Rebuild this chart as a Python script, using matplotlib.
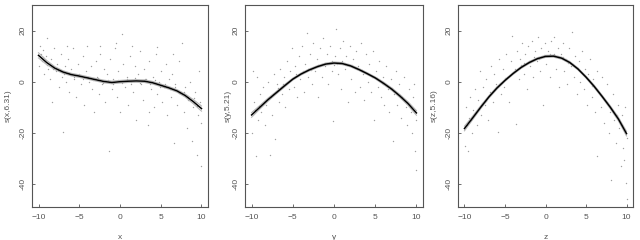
import numpy as np
import matplotlib
matplotlib.use("Agg")
import matplotlib.pyplot as plt

plt.rcParams['font.family'] = ['Liberation Sans', 'DejaVu Sans']

# smooth estimates read at x = -10 .. 10
grid = list(range(-10, 11))
fit_x = [10.3, 7.5, 5.3, 3.8, 2.8, 2.2, 1.5, 0.8, 0.1, -0.3, 0.0,
         0.2, 0.3, 0.2, -0.4, -1.4, -2.4, -3.6, -5.4, -7.8, -10.5]
fit_y = [-13.0, -10.0, -7.0, -4.3, -1.6, 1.0, 3.0, 4.6, 5.9, 6.9, 7.3,
         7.1, 6.2, 4.8, 3.2, 1.5, -0.6, -2.9, -5.6, -8.6, -12.2]
fit_z = [-18.3, -14.2, -10.0, -6.0, -2.5, 0.5, 3.2, 5.6, 7.5, 9.0, 9.9,
         10.0, 9.2, 7.5, 5.0, 1.8, -1.8, -5.8, -10.0, -14.6, -20.3]
se_x = [1.0, 0.8, 0.6, 0.5, 0.5, 0.5, 0.5, 0.5, 0.5, 0.5, 0.5,
        0.5, 0.5, 0.5, 0.5, 0.5, 0.5, 0.5, 0.6, 0.8, 1.0]
se_y = [0.9, 0.7, 0.6, 0.5, 0.5, 0.4, 0.4, 0.4, 0.4, 0.4, 0.4,
        0.4, 0.4, 0.4, 0.4, 0.4, 0.5, 0.5, 0.6, 0.7, 0.9]
se_z = [0.9, 0.7, 0.6, 0.5, 0.5, 0.4, 0.4, 0.4, 0.4, 0.4, 0.4,
        0.4, 0.4, 0.4, 0.4, 0.4, 0.5, 0.5, 0.6, 0.7, 0.9]

# partial residuals
px_x = [-9.8, -9.6, -9.5, -9.3, -9.1, -9.0, -8.8, -8.6, -8.5, -8.3, -8.1, -7.9, -7.7, -7.5, -7.3, -7.1, -7.0,
        -6.8, -6.6, -6.4, -6.2, -6.0, -5.8, -5.6, -5.4, -5.2, -5.0, -4.8, -4.6, -4.4, -4.2, -4.0, -3.8, -3.6,
        -3.4, -3.2, -3.0, -2.8, -2.6, -2.4, -2.2, -2.0, -1.8, -1.6, -1.4, -1.2, -1.0, -0.8, -0.6, -0.4, -0.2,
        0.0, 0.2, 0.4, 0.6, 0.8, 1.0, 1.2, 1.4, 1.6, 1.8, 2.0, 2.2, 2.4, 2.6, 2.8, 3.0, 3.2, 3.4, 3.6, 3.8,
        4.0, 4.2, 4.4, 4.6, 4.8, 5.0, 5.2, 5.4, 5.6, 5.8, 6.0, 6.2, 6.4, 6.6, 6.8, 7.0, 7.2, 7.4, 7.6, 7.8,
        8.0, 8.2, 8.4, 8.6, 8.8, 9.0, 9.2, 9.4, 9.6, 9.8, 10.0, 9.9, 9.7, -9.9, -0.5, 1.5, -2.5, 4.5, 6.5,
        -6.5, 3.5,
        -9.4, -8.9, -8.2, -7.6, -6.9, -6.3, -5.7, -5.1, -4.5, -3.9, -3.3, -2.7, -2.1, -1.5, -0.9, -0.3, 0.3,
        0.9, 1.3, 1.9, 2.5, 3.1, 3.7, 4.3, 4.9, 5.5, 6.1, 6.7, 7.3, 7.9, 8.5, 9.1, 9.5, -9.7, -8.7, -7.2,
        -4.1, 2.9, 5.9, 8.3]
py_x = [14, 8, 12.5, 3, 10, 17, 5, 1, 9, -8, 13, 4, 7, -2, 11, 2, -19.5,
        6, 0, 9, -4, 5, 13, 1, -6, 7, 3, -1, 10, -9, 4, 14, 0, 6,
        -3, -12, 8, 2, -5, 11, -1, 5, -8, 3, -27, 9, -3, 1, 13, -6, 4,
        -12, 18.5, 7, -2, 2, -9, 10, 0, -4, 6, -15, 3, 12, -1, -7, 5, 1, -17, 8, -3,
        2, -10, 11, -5, 0, 4, -8, -2, 7, -13, 1, -6, 3, -24, -1, -9, 8, -4, 15, -12,
        -2, -18, -7, 0, -23, -10, -4, -28.5, -13, -8, -33, -16, 4, 6, 15, 14, 14, 13.5, 11,
        14, -12,
        9.5, 6.5, 5, 4.5, 3, 3.5, 2, 2.5, 1, 2, 0.5, 1.5, -0.5, 0.5, -1, 0.5, -0.5,
        1, -1, 1.5, -0.5, 1, -1, 0.5, -2, -1, -3, -2, -4.5, -4, -7, -6.5, -9.5, 11, 7, 4,
        1.8, 0.3, -2.2, -6]

px_y = [-9.9, -9.7, -9.5, -9.4, -9.2, -9.0, -8.8, -8.6, -8.4, -8.2, -8.0, -7.8, -7.7, -7.5, -7.3, -7.1,
        -6.9, -6.7, -6.5, -6.3, -6.1, -5.9, -5.7, -5.5, -5.3, -5.1, -4.9, -4.7, -4.5, -4.3, -4.1, -3.9,
        -3.7, -3.5, -3.3, -3.1, -2.9, -2.7, -2.5, -2.3, -2.1, -1.9, -1.7, -1.5, -1.3, -1.1, -0.9, -0.7,
        -0.5, -0.3, -0.1, 0.1, 0.3, 0.5, 0.7, 0.9, 1.1, 1.3, 1.5, 1.7, 1.9, 2.1, 2.3, 2.5, 2.7, 2.9, 3.1,
        3.3, 3.5, 3.7, 3.9, 4.1, 4.3, 4.5, 4.7, 4.9, 5.1, 5.3, 5.5, 5.7, 5.9, 6.1, 6.3, 6.5, 6.7, 6.9, 7.1,
        7.3, 7.5, 7.7, 7.9, 8.1, 8.3, 8.5, 8.7, 8.9, 9.1, 9.3, 9.5, 9.6, 9.8, 9.9, 10.0, -9.8, 9.7,
        -9.6, -9.1, -8.5, -7.9, -7.4, -6.8, -6.2, -5.6, -5.0, -4.4, -3.8, -3.2, -2.6, -2.0, -1.4, -0.8,
        -0.2, 0.4, 1.0, 1.6, 2.2, 2.8, 3.4, 4.0, 4.6, 5.2, 5.8, 6.4, 7.0, 7.6, 8.2, 8.8, 9.4, -4.6, 0.0,
        2.6, 6.0, -7.0, 8.0, -2.8]
py_y = [-20, -8, -29, 2, -15, -5, -12, -2, -17, -9, 0, -28.5, -6, -13, 3, -22.5,
        -1, -8, 5, -5, 2, -10, 8, -3, 4, 13, -2, 6, -6, 10, 1, 14,
        -4, 7, 19, 2, 11, -1, 15, 4, 9, -6, 13, 2, 17, 6, 11, -1,
        14, 4, -15.5, 10, 20.5, 3, 13, -3, 16, 5, 10, -8, 14, 1, 9, -4, 12, 6, -2,
        15, 3, -7, 11, 0, 7, -4, 12, -15, 4, -2, 8, -6, 2, -9, 6, -3, -12, 1, -23,
        -5, 4, -9, -1, -14, -6, 2, -10, -17, -3, -12, -20, -6, -27, -34.5, -15, 4, -1,
        -11, -9.5, -8, -6.5, -5, -2.5, -1, 0, 1.5, 2.5, 4, 5, 5.5, 6.5, 7, 7.5,
        8, 7, 8, 6.5, 6.5, 5, 4.5, 3.5, 2, 1.5, -0.5, -1.5, -2.5, -4.5, -6, -8, -10, 3, 6.5,
        5.5, -1, -4, -5.5, 4.5]

px_z = [-9.9, -9.8, -9.6, -9.5, -9.3, -9.1, -8.9, -8.7, -8.5, -8.3, -8.1, -7.9, -7.7, -7.5, -7.3, -7.1,
        -6.9, -6.7, -6.5, -6.3, -6.1, -5.9, -5.7, -5.5, -5.3, -5.1, -4.9, -4.7, -4.5, -4.3, -4.1, -3.9,
        -3.7, -3.5, -3.3, -3.1, -2.9, -2.7, -2.5, -2.3, -2.1, -1.9, -1.7, -1.5, -1.3, -1.1, -0.9, -0.7,
        -0.5, -0.3, -0.1, 0.1, 0.3, 0.5, 0.7, 0.9, 1.1, 1.3, 1.5, 1.7, 1.9, 2.1, 2.3, 2.5, 2.7, 2.9, 3.1,
        3.3, 3.5, 3.7, 3.9, 4.1, 4.3, 4.5, 4.7, 4.9, 5.1, 5.3, 5.5, 5.7, 5.9, 6.1, 6.3, 6.4, 6.6, 6.8, 7.0,
        7.2, 7.4, 7.6, 7.8, 8.0, 8.1, 8.3, 8.5, 8.7, 8.9, 9.1, 9.3, 9.5, 9.6, 9.7, 9.9, 10.0, 10.0, 9.8,
        -9.7, -9.2, -8.6, -8.0, -7.4, -6.8, -6.2, -5.6, -5.0, -4.4, -3.8, -3.2, -2.6, -2.0, -1.4, -0.8,
        -0.2, 0.4, 1.0, 1.6, 2.2, 2.8, 3.4, 4.0, 4.6, 5.2, 5.8, 6.4, 7.0, 7.6, 8.2, 8.8, 9.4, -3.0, 0.6,
        2.4, 5.4, -5.4, -7.8, 8.6]
py_z = [-25, -10, -27, -14, -6, -20, -11, -3, -17, -7, 4, -13, -2, -9, 1, -15,
        -4, 6, -8, 3, -1, -19.5, 9, -5, 5, -2, 11, 2, -8, 8, 18, 4,
        -16.5, 12, 1, 9, 15, 3, 11, -3, 14, 6, 16, 2, 12, 8, 17.5, 4,
        13, -9, 15, 7, 12, 2, 16, 10, 17.5, 5, 13, -2, 11, 15, 4, 9, -1, 13, 6,
        19.5, 2, 10, -5, 8, 0, 12, -3, 5, -9, 3, 9, -6, 1, -12, 4, -29, -4, -10, 2,
        -16, -7, -1, -20, -12, -38.5, -5, -15, -24, -9, -18, -33, -13, -26, -30.5, -39.5, -46, -22, -10,
        -17, -15, -12, -9, -7.5, -5, -3, -0.5, 1.5, 2.5, 5, 5.5, 7.5, 8, 9.5, 9,
        10.5, 10, 11, 9.5, 9.5, 7.5, 7, 5.5, 3, 1, -1.5, -3, -6, -8, -11, -13, -17, 6.5, 11,
        8.5, 0.5, -0.5, -8.5, -12.5]

names = ["x", "y", "z"]
ylabels = ["s(x,6.31)", "s(y,5.21)", "s(z,5.16)"]
fits = [fit_x, fit_y, fit_z]
ses = [se_x, se_y, se_z]
pts = [(px_x, py_x), (px_y, py_y), (px_z, py_z)]

fig = plt.figure(figsize=(6.4, 2.4), dpi=100)
# axes boxes in pixels: left, right; shared top 5 and bottom 207
boxes = [(32, 208), (245, 423), (458, 633)]
ylab_px = [8, 228, 434]
txt = "#555555"

for i in range(3):
    l, r = boxes[i]
    ax = fig.add_axes([l / 640, 33 / 240, (r - l) / 640, 202 / 240])
    ax.scatter(pts[i][0], pts[i][1], s=1.0, color="#a0a0a0", linewidths=0)
    f = np.array(fits[i])
    s = np.array(ses[i])
    ax.plot(grid, f + s, color="#b5b5b5", lw=0.8)
    ax.plot(grid, f - s, color="#b5b5b5", lw=0.8)
    ax.plot(grid, f, color="black", lw=1.1)
    ax.set_xlim(-10.8, 10.8)
    ax.set_ylim(-49, 30)
    ax.set_xticks([-10, -5, 0, 5, 10])
    ax.set_yticks([-40, -20, 0, 20])
    ax.set_yticklabels(["-40", "-20", "0", "20"], rotation=90, va="center")
    ax.tick_params(labelsize=6, colors=txt, length=2, width=0.6, direction="in", pad=5)
    ax.tick_params(axis="y", pad=4)
    for sp in ax.spines.values():
        sp.set_color("#555555")
        sp.set_linewidth(0.8)
    ax.set_xlabel(names[i], fontsize=6, color=txt)
    ax.xaxis.set_label_coords(0.5, -(234 - 207) / 202)
    ax.set_ylabel(ylabels[i], fontsize=6, color=txt, va="center")
    ax.yaxis.set_label_coords((ylab_px[i] - l) / (r - l), 0.5)

fig.savefig("out.png", dpi=100)
